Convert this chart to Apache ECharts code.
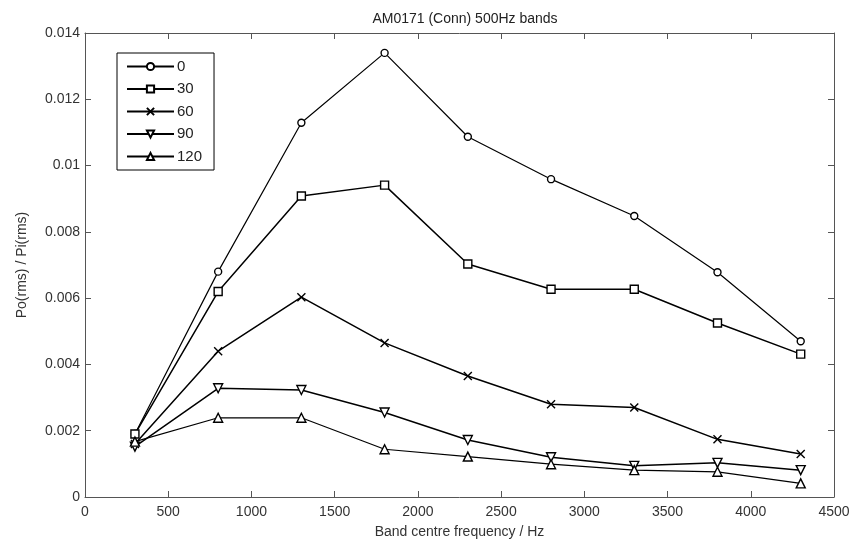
<!doctype html>
<html>
<head>
<meta charset="utf-8">
<title>AM0171 (Conn) 500Hz bands</title>
<script src="https://cdn.jsdelivr.net/npm/echarts@6/dist/echarts.min.js"></script>
</head>
<body style="margin:0;background:#fff;">
<div id="container" style="width:864px;height:544px;"></div>
<script type="text/javascript">
    // band centre frequencies (Hz)
    var freqs = [300, 800, 1300, 1800, 2300, 2800, 3300, 3800, 4300];
    // series names (angle)
    var names = ['0', '30', '60', '90', '120'];
    // Po(rms) / Pi(rms) per series
    var s0   = [0.0019, 0.0068, 0.01129, 0.0134, 0.01087, 0.00959, 0.00848, 0.00678, 0.0047];
    var s30  = [0.0019, 0.0062, 0.00908, 0.00941, 0.00703, 0.00627, 0.00627, 0.00525, 0.00431];
    var s60  = [0.0016, 0.0044, 0.00603, 0.00465, 0.00365, 0.0028, 0.0027, 0.00174, 0.0013];
    var s90  = [0.00152, 0.00328, 0.00323, 0.00255, 0.00172, 0.0012, 0.00094, 0.00103, 0.00081];
    var s120 = [0.00167, 0.00239, 0.00239, 0.00144, 0.00122, 0.00099, 0.00081, 0.00076, 0.00041];
    var yTickLabels = ['0', '0.002', '0.004', '0.006', '0.008', '0.01', '0.012', '0.014'];

    var allData = [s0, s30, s60, s90, s120];
    var symbols = [
        'circle',
        'rect',
        'path://M0,0L10,10M10,0L0,10',
        'path://M0,0L10,0L5,8.66Z',
        'triangle'
    ];
    var sizes = [7, 8, 8, 9, 9];
    var widths = [1.2, 1.5, 1.5, 1.5, 1.2];

    var series = [];
    for (var i = 0; i < names.length; i++) {
        var pts = [];
        for (var j = 0; j < freqs.length; j++) {
            pts.push([freqs[j], allData[i][j]]);
        }
        series.push({
            name: names[i],
            type: 'line',
            data: pts,
            symbol: symbols[i],
            symbolSize: sizes[i],
            showAllSymbol: true,
            lineStyle: { color: '#000', width: widths[i] },
            itemStyle: { color: '#fff', borderColor: '#000', borderWidth: 1.4 },
            emphasis: { disabled: true },
            animation: false
        });
    }

    var axisFont = { color: '#333', fontSize: 14, fontFamily: 'Liberation Sans' };
    var frameLine = { onZero: false, lineStyle: { color: '#555' } };
    var tickIn = { show: true, inside: true, length: 6, lineStyle: { color: '#555' } };

    var option = {
        backgroundColor: '#fff',
        title: {
            text: 'AM0171 (Conn) 500Hz bands',
            left: 460,
            top: 7,
            textAlign: 'center',
            textStyle: { color: '#222', fontSize: 14, fontWeight: 'normal', fontFamily: 'Liberation Sans' }
        },
        grid: { left: 85, right: 30, top: 33, bottom: 47 },
        legend: {
            orient: 'vertical',
            left: 117,
            top: 53,
            padding: [6, 12, 6, 9],
            itemWidth: 47,
            itemHeight: 9,
            itemGap: 7.5,
            borderColor: '#000',
            borderWidth: 1,
            backgroundColor: '#fff',
            textStyle: { color: '#222', fontSize: 15, fontFamily: 'Liberation Sans', padding: [0, 0, 0, -2] },
            data: names
        },
        xAxis: [{
            type: 'value',
            min: 0, max: 4500, interval: 500,
            name: 'Band centre frequency / Hz',
            nameLocation: 'middle',
            nameGap: 28,
            nameTextStyle: axisFont,
            axisLine: frameLine,
            axisTick: tickIn,
            axisLabel: {
                color: '#333', fontSize: 14, fontFamily: 'Liberation Sans',
                formatter: function (v) { return String(v); }
            },
            splitLine: { show: false }
        }, {
            type: 'value', position: 'top',
            min: 0, max: 4500, interval: 500,
            axisLine: frameLine,
            axisTick: tickIn,
            axisLabel: { show: false },
            splitLine: { show: false }
        }],
        yAxis: [{
            type: 'value',
            min: 0, max: 0.014, interval: 0.002,
            name: 'Po(rms) / Pi(rms)',
            nameLocation: 'middle',
            nameGap: 56,
            nameTextStyle: axisFont,
            axisLine: { show: true, onZero: false, lineStyle: { color: '#555' } },
            axisTick: tickIn,
            axisLabel: {
                color: '#333', fontSize: 14, fontFamily: 'Liberation Sans', margin: 5,
                formatter: function (v) { return yTickLabels[Math.round(v / 0.002)]; }
            },
            splitLine: { show: false }
        }, {
            type: 'value', position: 'right',
            min: 0, max: 0.014, interval: 0.002,
            axisLine: { show: true, onZero: false, lineStyle: { color: '#555' } },
            axisTick: tickIn,
            axisLabel: { show: false },
            splitLine: { show: false }
        }],
        series: series
    };

    var myChart = echarts.init(document.getElementById('container'));
    myChart.setOption(option);
</script>
</body>
</html>
